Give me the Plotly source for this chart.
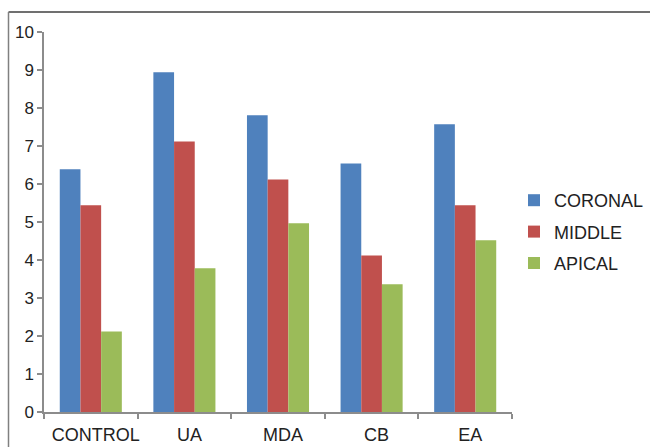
import plotly.graph_objects as go

# Groups and measured values per root third
categories = ["CONTROL", "UA", "MDA", "CB", "EA"]
coronal = [6.39, 8.94, 7.81, 6.54, 7.57]
middle = [5.44, 7.12, 6.12, 4.12, 5.44]
apical = [2.12, 3.78, 4.97, 3.36, 4.52]

series_names = ["CORONAL", "MIDDLE", "APICAL"]
series_colors = ["#4F81BD", "#C0504D", "#9BBB59"]
y_ticks = list(range(0, 11))

W, H = 650, 447
ML, MR, MT, MB = 44, 138, 32, 35

fig = go.Figure()
for name, vals, col in zip(series_names, [coronal, middle, apical], series_colors):
    fig.add_trace(go.Bar(
        x=categories, y=vals, name=name, marker_color=col,
        marker_line_width=0, legendgroup=name,
    ))

axis_col = "#8C8C8C"
fig.update_layout(
    width=W, height=H,
    margin=dict(l=ML, r=MR, t=MT, b=MB, autoexpand=False),
    paper_bgcolor="white", plot_bgcolor="white",
    barmode="group", bargap=0.337, bargroupgap=0,
    font=dict(family="Liberation Sans, Arial, sans-serif", color="#222222"),
    xaxis=dict(
        showline=True, linecolor=axis_col, linewidth=1.5,
        ticks="outside", tickson="boundaries", ticklen=5,
        tickcolor=axis_col, tickwidth=1.5, tickangle=0, automargin=False,
        ticklabelshift=5, ticklabelstandoff=6,
        tickfont=dict(size=18), showgrid=False,
    ),
    yaxis=dict(
        range=[0, 10], tickvals=y_ticks, automargin=False,
        showline=True, linecolor=axis_col, linewidth=1.5,
        ticks="outside", ticklen=5, tickcolor=axis_col, tickwidth=1.5,
        tickfont=dict(size=17), showgrid=False, zeroline=False,
    ),
    legend=dict(
        xref="container", yref="container",
        x=514 / W, xanchor="left", y=(H - 232) / H, yanchor="middle",
        font=dict(size=18, color="#222222"),
        traceorder="grouped", tracegroupgap=5,
        bgcolor="rgba(0,0,0,0)",
    ),
)

# Frame lines around the chart area (top and left)
pw = W - ML - MR
ph = H - MT - MB
def px_x(px):
    return (px - ML) / pw
def px_y(py):
    return (H - MB - py) / ph

fig.add_shape(type="line", xref="paper", yref="paper",
              x0=px_x(8.5), x1=px_x(652), y0=px_y(12), y1=px_y(12),
              line=dict(color="#404040", width=1.5))
fig.add_shape(type="line", xref="paper", yref="paper",
              x0=px_x(8.5), x1=px_x(8.5), y0=px_y(12), y1=px_y(450),
              line=dict(color="#808080", width=1.5))

fig.write_html("out.html")
